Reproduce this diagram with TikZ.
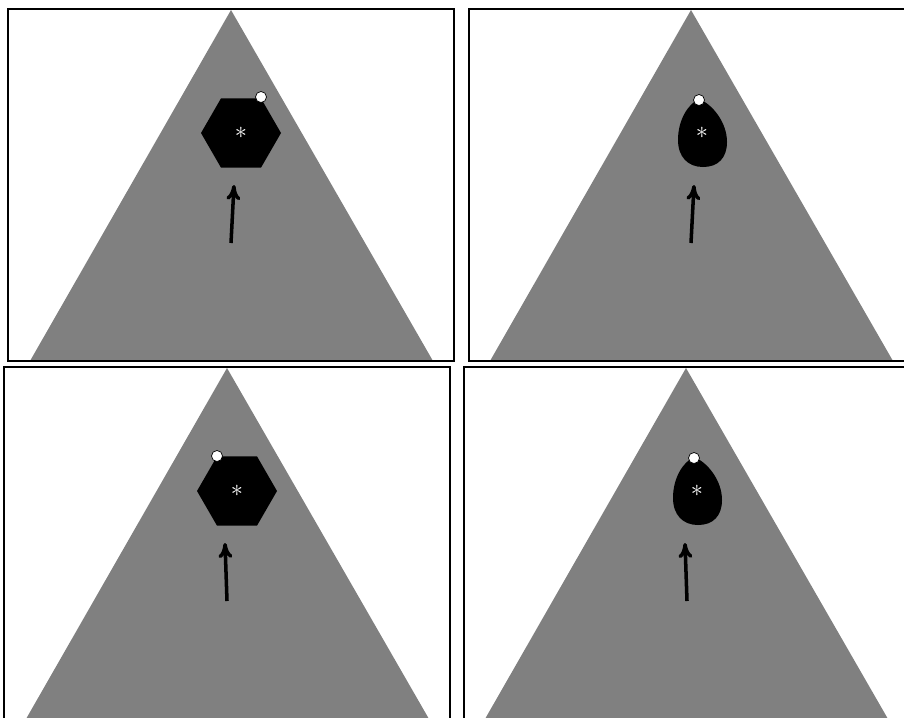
\documentclass[tikz,border=0pt]{standalone}
\usetikzlibrary{shapes.geometric,arrows.meta}
\begin{document}
\begin{tikzpicture}[
    x=0.03cm, y=-0.03cm,
    frame/.style={draw=black, line width=1pt},
    hill/.style={fill=gray},
    hexa/.style={
        regular polygon,
        regular polygon sides=6,
        fill=black,
        inner sep=0pt,
        minimum size=2.4cm
    },
    marker/.style={circle, draw=black, fill=white, line width=0.6pt, inner sep=0pt, minimum size=0.33cm},
    centre/.style={text=white, inner sep=0pt, font=\huge},
    move/.style={line width=3pt, -{To[length=4.5mm, width=4.2mm]}}
]

\useasboundingbox (0,0) rectangle (904,717);
\clip (0,0) rectangle (904,717);

% Top left: hexagon, marker at right corner
\fill[hill] (231,10) -- (433,361) -- (30,361) -- cycle;
\draw[frame] (8,9) rectangle (454,361);
\node[hexa] (hexTL) at (241,133) {};
\node[centre] (cTL) at (hexTL.center) {$\ast$};
\node[marker] (dotTL) at (261,97) {};
\coordinate (tailTL) at (231,243);
\coordinate (tipTL) at (234,185);
\draw[move] (tailTL) -- (tipTL);

% Top right: drop, marker at top
\fill[hill] (691,10) -- (893,361) -- (490,361) -- cycle;
\draw[frame] (469,9) rectangle (915,361);
\fill[black] (699,99) .. controls (712,104) and (727,122) .. (727,142)
    .. controls (727,158) and (718,167) .. (703,167)
    .. controls (688,167) and (678,157) .. (678,140)
    .. controls (678,120) and (688,104) .. cycle;
\node[centre] (cTR) at (702,133) {$\ast$};
\node[marker] (dotTR) at (699,100) {};
\coordinate (tailTR) at (691,243);
\coordinate (tipTR) at (694,185);
\draw[move] (tailTR) -- (tipTR);

% Bottom left: hexagon, marker at left corner
\begin{scope}[shift={(-4,358)}]
\fill[hill] (231,10) -- (433,361) -- (30,361) -- cycle;
\draw[frame] (8,9) rectangle (454,361);
\node[hexa] (hexBL) at (241,133) {};
\node[centre] (cBL) at (hexBL.center) {$\ast$};
\node[marker] (dotBL) at (221,98) {};
\coordinate (tailBL) at (231,243);
\coordinate (tipBL) at (229,185);
\draw[move] (tailBL) -- (tipBL);
\end{scope}

% Bottom right: drop, marker at top
\begin{scope}[shift={(-5,358)}]
\fill[hill] (691,10) -- (893,361) -- (490,361) -- cycle;
\draw[frame] (469,9) rectangle (915,361);
\fill[black] (699,99) .. controls (712,104) and (727,122) .. (727,142)
    .. controls (727,158) and (718,167) .. (703,167)
    .. controls (688,167) and (678,157) .. (678,140)
    .. controls (678,120) and (688,104) .. cycle;
\node[centre] (cBR) at (702,133) {$\ast$};
\node[marker] (dotBR) at (699,100) {};
\coordinate (tailBR) at (692,243);
\coordinate (tipBR) at (690,185);
\draw[move] (tailBR) -- (tipBR);
\end{scope}

\end{tikzpicture}
\end{document}
